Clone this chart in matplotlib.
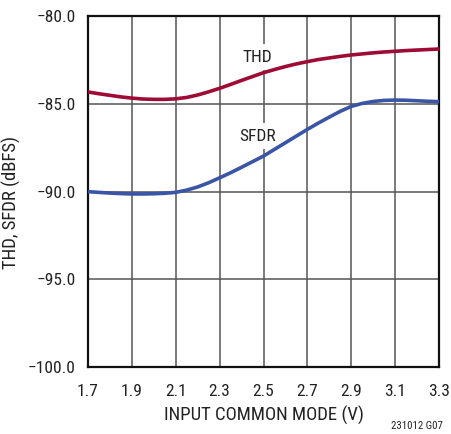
import matplotlib
matplotlib.use("Agg")
import matplotlib.pyplot as plt
from matplotlib import font_manager

names = {f.name for f in font_manager.fontManager.ttflist}
FAM = [n for n in ["Liberation Sans Narrow", "Roboto Condensed", "DejaVu Sans Condensed"] if n in names] + ["Liberation Sans", "DejaVu Sans"]
plt.rcParams['font.family'] = FAM

# Data
x_v = [1.70, 1.75, 1.80, 1.85, 1.90, 1.95, 2.00, 2.05, 2.10, 2.15, 2.20, 2.25,
       2.30, 2.35, 2.40, 2.45, 2.50, 2.55, 2.60, 2.65, 2.70, 2.75, 2.80, 2.85,
       2.90, 2.95, 3.00, 3.05, 3.10, 3.15, 3.20, 3.25, 3.30]
thd = [-84.33, -84.43, -84.52, -84.61, -84.68, -84.73, -84.75, -84.75, -84.72,
       -84.64, -84.50, -84.32, -84.12, -83.90, -83.67, -83.45, -83.23, -83.05,
       -82.88, -82.73, -82.60, -82.48, -82.39, -82.30, -82.22, -82.16, -82.10,
       -82.05, -82.01, -81.97, -81.94, -81.91, -81.88]
sfdr = [-90.01, -90.05, -90.09, -90.12, -90.14, -90.14, -90.13, -90.10, -90.05,
        -89.92, -89.74, -89.50, -89.22, -88.93, -88.62, -88.30, -87.98, -87.60,
        -87.22, -86.84, -86.46, -86.10, -85.76, -85.43, -85.15, -84.98, -84.87,
        -84.81, -84.79, -84.80, -84.83, -84.86, -84.88]
x_ticks = [1.7, 1.9, 2.1, 2.3, 2.5, 2.7, 2.9, 3.1, 3.3]
y_ticks = [-100.0, -95.0, -90.0, -85.0, -80.0]

fig = plt.figure(figsize=(4.51, 4.34), dpi=100)
ax = fig.add_axes([88/451, 1-367/434, 351/451, 351/434])
ax.set_xlim(1.7, 3.3)
ax.set_ylim(-100, -80)
ax.set_xticks(x_ticks)
ax.set_xticklabels([f"{t:.1f}" for t in x_ticks])
ax.set_yticks(y_ticks)
ax.set_yticklabels([f"{t:.1f}".replace("-", "\u2212") for t in y_ticks])
ax.tick_params(length=0, labelsize=12.5, pad=9, colors="#222222")
ax.tick_params(axis='x', pad=12)
ax.grid(True, color="#555555", linewidth=1.1)
ax.set_axisbelow(True)
for s in ax.spines.values():
    s.set_linewidth(1.6)
    s.set_color("#111111")

ax.plot(x_v, thd, color="#9E0B35", linewidth=2.6, solid_capstyle='butt', zorder=3)
ax.plot(x_v, sfdr, color="#3A55A6", linewidth=2.6, solid_capstyle='butt', zorder=3)

bb = dict(facecolor="white", edgecolor="none", pad=4)
ax.text(2.47, -82.35, "THD", fontsize=12.5, ha="center", va="center", color="#222222", bbox=bb, zorder=2)
ax.text(2.475, -86.84, "SFDR", fontsize=12.5, ha="center", va="center", color="#222222", bbox=bb, zorder=2)

ax.set_xlabel("INPUT COMMON MODE (V)", fontsize=13.5, color="#222222", labelpad=5)
ax.set_ylabel("THD, SFDR (dBFS)", fontsize=13.5, color="#222222")
ax.yaxis.set_label_coords(-0.19, 0.47)
fig.text(443/451, 1-426/434, "231012 G07", fontsize=7.8, ha="right", va="center", color="#222222")

fig.savefig("out.png", dpi=100)
